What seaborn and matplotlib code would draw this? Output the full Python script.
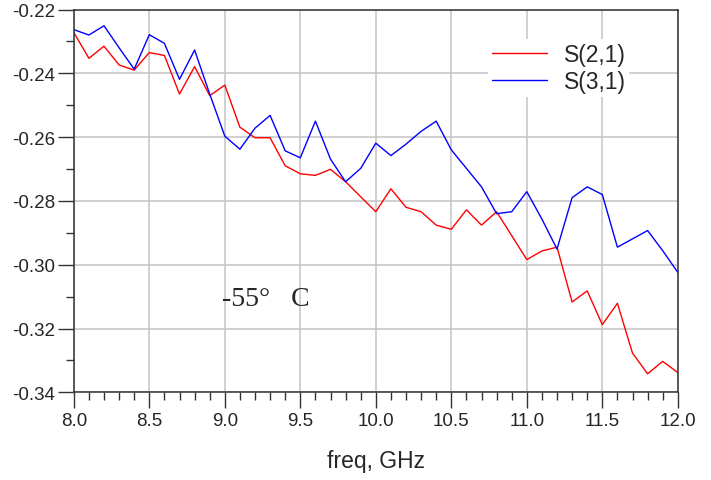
import matplotlib
matplotlib.use("Agg")
import matplotlib.pyplot as plt
from matplotlib.ticker import MultipleLocator, FormatStrFormatter
import seaborn as sns
import pandas as pd

freq = [8.0, 8.1, 8.2, 8.3, 8.4, 8.5, 8.6, 8.7, 8.8, 8.9,
        9.0, 9.1, 9.2, 9.3, 9.4, 9.5, 9.6, 9.7, 9.8, 9.9,
        10.0, 10.1, 10.2, 10.3, 10.4, 10.5, 10.6, 10.7, 10.8, 10.9,
        11.0, 11.1, 11.2, 11.3, 11.4, 11.5, 11.6, 11.7, 11.8, 11.9,
        12.0]

s21 = [-0.2272, -0.2353, -0.2315, -0.2374, -0.2390, -0.2335, -0.2344, -0.2465, -0.2379, -0.2470,
       -0.2437, -0.2569, -0.2602, -0.2602, -0.2690, -0.2715, -0.2720, -0.2701, -0.2740, -0.2787,
       -0.2834, -0.2762, -0.2820, -0.2834, -0.2876, -0.2889, -0.2828, -0.2876, -0.2834, -0.2909,
       -0.2984, -0.2957, -0.2945, -0.3117, -0.3082, -0.3188, -0.3121, -0.3277, -0.3342, -0.3303,
       -0.3338]

s31 = [-0.2263, -0.2280, -0.2251, -0.2320, -0.2387, -0.2279, -0.2306, -0.2419, -0.2327, -0.2465,
       -0.2597, -0.2638, -0.2572, -0.2532, -0.2643, -0.2665, -0.2550, -0.2669, -0.2740, -0.2698,
       -0.2619, -0.2658, -0.2622, -0.2582, -0.2550, -0.2640, -0.2698, -0.2756, -0.2840, -0.2834,
       -0.2771, -0.2857, -0.2951, -0.2790, -0.2756, -0.2780, -0.2945, -0.2919, -0.2893, -0.2956,
       -0.3024]

series_names = ["S(2,1)", "S(3,1)"]
series_colors = ["#ff0000", "#0000ff"]
x_ticks = [8.0, 8.5, 9.0, 9.5, 10.0, 10.5, 11.0, 11.5, 12.0]
y_ticks = [-0.34, -0.32, -0.30, -0.28, -0.26, -0.24, -0.22]
annotation = "-55°   C"
x_label = "freq, GHz"

df = pd.concat([
    pd.DataFrame({"freq": freq, "value": s21, "series": series_names[0]}),
    pd.DataFrame({"freq": freq, "value": s31, "series": series_names[1]}),
])

sns.set_style("white")
plt.rcParams["font.family"] = ["Liberation Sans", "DejaVu Sans"]

fig = plt.figure(figsize=(7.11, 4.81), dpi=100)
ax = fig.add_axes([73.8 / 711, 1 - 393.3 / 481, 604 / 711, 382.8 / 481])

sns.lineplot(data=df, x="freq", y="value", hue="series",
             palette=dict(zip(series_names, series_colors)),
             linewidth=1.0, ax=ax, legend=True)

ax.set_xlim(8.0, 12.0)
ax.set_ylim(-0.34, -0.22)
ax.set_xticks(x_ticks)
ax.set_yticks(y_ticks)
ax.xaxis.set_minor_locator(MultipleLocator(0.1))
ax.yaxis.set_minor_locator(MultipleLocator(0.01))
ax.xaxis.set_major_formatter(FormatStrFormatter("%.1f"))
ax.yaxis.set_major_formatter(FormatStrFormatter("%.2f"))

ax.grid(True, which="major", color="#c4c4c4", linewidth=1.1)
ax.set_axisbelow(True)
for sp in ax.spines.values():
    sp.set_visible(True)
    sp.set_color("#333333")
    sp.set_linewidth(1.1)

ax.tick_params(which="both", bottom=True, left=True, top=False, right=False)
ax.tick_params(which="major", direction="out", length=11.5, width=1.0,
               color="#333333", labelsize=13.5, pad=2)
ax.tick_params(which="minor", direction="out", length=6, width=1.0,
               color="#333333")
ax.tick_params(axis="x", which="major", pad=3)

ax.set_xlabel(x_label, fontsize=16.5, labelpad=14)
ax.set_ylabel("")

ax.text(8.98, -0.3105, annotation, fontsize=20, va="center", ha="left",
        family=["Liberation Serif", "DejaVu Serif"])

leg = ax.legend(loc="center left", bbox_to_anchor=(0.686, 0.847),
                frameon=True, fontsize=16.5, handlelength=2.4, handletextpad=0.75,
                labelspacing=0.2, borderpad=0.15, borderaxespad=0)
leg.get_frame().set_edgecolor("none")
leg.get_frame().set_facecolor("white")
leg.get_frame().set_alpha(1.0)
leg.set_zorder(10)
for line in leg.get_lines():
    line.set_linewidth(1.0)

fig.savefig("out.png", dpi=100)
